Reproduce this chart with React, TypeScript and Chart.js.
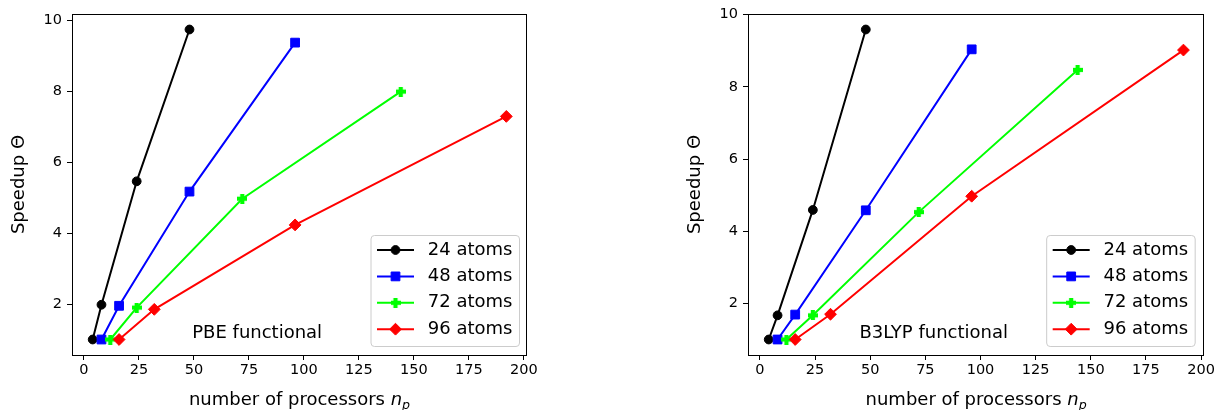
import React, { useEffect, useRef } from "react";
import { Chart, registerables } from "chart.js";
import { drawPoint } from "chart.js/helpers";

Chart.register(...registerables);

const FONT = "'DejaVu Sans', sans-serif";

// Series definitions shared by both panels
const seriesLabels = ["24 atoms", "48 atoms", "72 atoms", "96 atoms"];
const seriesColors = ["#000000", "#0000ff", "#00ff00", "#ff0000"];

// Number of processors used for each system size
const procs24 = [4, 8, 24, 48];
const procs48 = [8, 16, 48, 96];
const procs72 = [12, 24, 72, 144];
const procs96 = [16, 32, 96, 192];

// Speedup, PBE functional
const pbe24 = [1.0, 1.98, 5.46, 9.74];
const pbe48 = [1.0, 1.95, 5.17, 9.37];
const pbe72 = [1.0, 1.9, 4.97, 7.99];
const pbe96 = [1.0, 1.85, 4.23, 7.29];

// Speedup, B3LYP functional
const b3lyp24 = [1.0, 1.67, 4.59, 9.59];
const b3lyp48 = [1.0, 1.69, 4.58, 9.04];
const b3lyp72 = [1.0, 1.67, 4.53, 8.47];
const b3lyp96 = [1.0, 1.7, 4.97, 9.02];

const xTicks = [0, 25, 50, 75, 100, 125, 150, 175, 200];
const yTicks = [2, 4, 6, 8, 10];

const procs = [procs24, procs48, procs72, procs96];

// Filled "plus" marker image
function makePlusMarker(color: string): HTMLCanvasElement {
  const size = 10;
  const arm = 4.2;
  const c = document.createElement("canvas");
  c.width = size;
  c.height = size;
  const g = c.getContext("2d")!;
  g.fillStyle = color;
  const o = (size - arm) / 2;
  g.fillRect(0, o, size, arm);
  g.fillRect(o, 0, arm, size);
  return c;
}

type MarkerSpec = { style: any; radius: number };

function markerSpecs(): MarkerSpec[] {
  return [
    { style: "circle", radius: 4.4 },
    { style: "rect", radius: 6.2 },
    { style: makePlusMarker(seriesColors[2]), radius: 5 },
    { style: "rectRot", radius: 5.9 },
  ];
}

// Matplotlib-style 5% margins around the data range
function paddedRange(values: number[]): [number, number] {
  const lo = Math.min(...values);
  const hi = Math.max(...values);
  const m = (hi - lo) * 0.05;
  return [lo - m, hi + m];
}

type PanelProps = {
  series: number[][];
  note: string;
  width: number;
  padLeft: number;
  padRight: number;
  yTitleGap: number;
  legendGap: number;
};

function Panel({ series, note, width, padLeft, padRight, yTitleGap, legendGap }: PanelProps) {
  const ref = useRef<HTMLCanvasElement | null>(null);

  useEffect(() => {
    const canvas = ref.current;
    if (!canvas) return;
    const markers = markerSpecs();
    const allX = procs.flat();
    const allY = series.flat();
    const [xMin, xMax] = paddedRange(allX);
    const [yMin, yMax] = paddedRange(allY);

    const decorations = {
      id: "decorations",
      afterDraw(chart: any) {
        const ctx: CanvasRenderingContext2D = chart.ctx;
        const a = chart.chartArea;
        ctx.save();

        // Frame around the plotting area
        ctx.strokeStyle = "#000";
        ctx.lineWidth = 1;
        ctx.strokeRect(
          Math.round(a.left) + 0.5,
          Math.round(a.top) + 0.5,
          Math.round(a.right) - Math.round(a.left) - 1,
          Math.round(a.bottom) - Math.round(a.top)
        );

        // Y-axis title
        ctx.fillStyle = "#000";
        ctx.save();
        ctx.translate(a.left - yTitleGap, (a.top + a.bottom) / 2);
        ctx.rotate(-Math.PI / 2);
        ctx.font = `18px ${FONT}`;
        ctx.textAlign = "center";
        ctx.textBaseline = "middle";
        ctx.fillText("Speedup Θ", 0, 0);
        ctx.restore();

        // X-axis title with subscript
        const plain = "number of processors ";
        const mainFont = `18px ${FONT}`;
        const italFont = `italic 18px ${FONT}`;
        const subFont = `italic 12.6px ${FONT}`;
        ctx.font = mainFont;
        const w1 = ctx.measureText(plain).width;
        ctx.font = italFont;
        const w2 = ctx.measureText("n").width;
        ctx.font = subFont;
        const w3 = ctx.measureText("p").width;
        const total = w1 + w2 + w3;
        let tx = (a.left + a.right) / 2 - total / 2;
        const baseY = 405;
        ctx.textAlign = "left";
        ctx.textBaseline = "alphabetic";
        ctx.font = mainFont;
        ctx.fillText(plain, tx, baseY);
        tx += w1;
        ctx.font = italFont;
        ctx.fillText("n", tx, baseY);
        tx += w2;
        ctx.font = subFont;
        ctx.fillText("p", tx, baseY + 3.5);

        // Functional name
        ctx.font = `18px ${FONT}`;
        ctx.textAlign = "center";
        ctx.textBaseline = "middle";
        ctx.fillText(note, a.left + 0.407 * (a.right - a.left), a.bottom - 0.063 * (a.bottom - a.top));

        // Legend
        const bw = 148.5;
        const bh = 111;
        const bx = a.right - legendGap - bw;
        const by = a.bottom - 9 - bh;
        ctx.beginPath();
        ctx.roundRect(bx + 0.5, by + 0.5, bw, bh, 3.5);
        ctx.fillStyle = "rgba(255,255,255,0.8)";
        ctx.fill();
        ctx.strokeStyle = "#cccccc";
        ctx.lineWidth = 1;
        ctx.stroke();

        seriesLabels.forEach((label, i) => {
          const ry = by + 15 + i * 26.4;
          ctx.strokeStyle = seriesColors[i];
          ctx.lineWidth = 2;
          ctx.beginPath();
          ctx.moveTo(bx + 6.5, ry);
          ctx.lineTo(bx + 43.5, ry);
          ctx.stroke();
          ctx.fillStyle = seriesColors[i];
          ctx.strokeStyle = seriesColors[i];
          ctx.lineWidth = 1;
          drawPoint(
            ctx,
            { pointStyle: markers[i].style, radius: markers[i].radius, rotation: 0, borderWidth: 1 } as any,
            bx + 25,
            ry
          );
          ctx.fillStyle = "#000";
          ctx.font = `18px ${FONT}`;
          ctx.textAlign = "left";
          ctx.textBaseline = "middle";
          ctx.fillText(label, bx + 57.3, ry);
        });

        ctx.restore();
      },
    };

    const tickFont = { family: FONT, size: 14.5 };

    const chart = new Chart(canvas, {
      type: "line",
      data: {
        datasets: series.map((ys, i) => ({
          label: seriesLabels[i],
          data: procs[i].map((x, j) => ({ x, y: ys[j] })),
          borderColor: seriesColors[i],
          backgroundColor: seriesColors[i],
          borderWidth: 2,
          pointStyle: markers[i].style,
          pointRadius: markers[i].radius,
          pointBorderWidth: 1,
          pointBorderColor: seriesColors[i],
          pointBackgroundColor: seriesColors[i],
          tension: 0,
          fill: false,
          order: 3 - i,
        })),
      },
      options: {
        animation: false,
        responsive: false,
        maintainAspectRatio: false,
        events: [],
        layout: { padding: { left: padLeft, right: padRight, top: 14, bottom: 0 } },
        plugins: { legend: { display: false }, tooltip: { enabled: false } },
        scales: {
          x: {
            type: "linear",
            min: xMin,
            max: xMax,
            afterBuildTicks: (s: any) => {
              s.ticks = xTicks.map((v) => ({ value: v }));
            },
            afterFit: (s: any) => {
              s.height = 55;
            },
            grid: { drawOnChartArea: false, drawTicks: true, tickLength: 5, color: "#000", lineWidth: 1 },
            border: { display: false },
            ticks: { font: tickFont, color: "#000", padding: 2, maxRotation: 0, autoSkip: false },
          },
          y: {
            type: "linear",
            min: yMin,
            max: yMax,
            afterBuildTicks: (s: any) => {
              s.ticks = yTicks.map((v) => ({ value: v }));
            },
            afterFit: (s: any) => {
              s.width = 70;
            },
            grid: { drawOnChartArea: false, drawTicks: true, tickLength: 5, color: "#000", lineWidth: 1 },
            border: { display: false },
            ticks: { font: tickFont, color: "#000", padding: 5, autoSkip: false },
          },
        },
      },
      plugins: [decorations],
    } as any);

    return () => chart.destroy();
  }, [series, note, width, padLeft, padRight, yTitleGap, legendGap]);

  return <canvas ref={ref} width={width} height={410} style={{ display: "block", width, height: 410 }} />;
}

const pbeSeries = [pbe24, pbe48, pbe72, pbe96];
const b3lypSeries = [b3lyp24, b3lyp48, b3lyp72, b3lyp96];

export default function App() {
  return (
    <div
      style={{
        position: "fixed",
        left: 0,
        top: 0,
        width: 1217,
        height: 410,
        background: "#fff",
        display: "flex",
      }}
    >
      <Panel series={pbeSeries} note="PBE functional" width={608} padLeft={2} padRight={81} yTitleGap={52.3} legendGap={8} />
      <Panel series={b3lypSeries} note="B3LYP functional" width={609} padLeft={70} padRight={9.5} yTitleGap={52.7} legendGap={9.5} />
    </div>
  );
}
